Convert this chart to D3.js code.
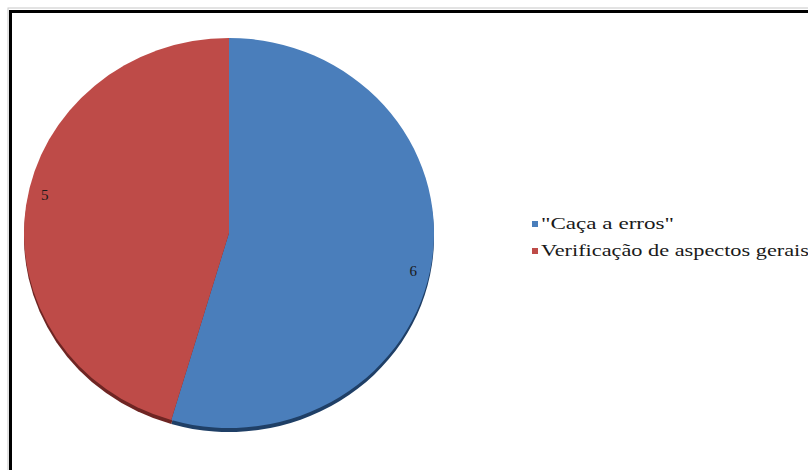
<!DOCTYPE html>
<html>
<head>
<meta charset="utf-8">
<script src="https://cdn.jsdelivr.net/npm/d3@7"></script>
<style>
  html, body { margin: 0; padding: 0; background: #fff; }
  svg { display: block; }
</style>
</head>
<body>
<svg id="chart" width="808" height="470"></svg>
<script>
// Categories and their counts
const categories = ["\"Caça a erros\"", "Verificação de aspectos gerais"];
const values = [6, 5];
const colors = ["#4a7ebb", "#be4b48"];
const sideColors = ["#1f3f66", "#6e2523"];
const serif = "'Liberation Serif', 'DejaVu Serif', serif";

const svg = d3.select("#chart");

// Frame around the chart area
svg.append("rect")
  .attr("x", 8).attr("y", 8).attr("width", 900).attr("height", 600)
  .attr("fill", "none").attr("stroke", "#c8c8c8").attr("stroke-width", 1);
svg.append("rect")
  .attr("x", 10.5).attr("y", 11.5).attr("width", 900).attr("height", 600)
  .attr("fill", "none").attr("stroke", "#000").attr("stroke-width", 3);

// Slightly tilted pie: an ellipse with a thin extruded edge
const cx = 229, cy = 233, rx = 205, ry = 195, depth = 4;
const pie = d3.pie().sort(null).value(d => d);
const arcs = pie(values);
const arc = d3.arc().innerRadius(0).outerRadius(ry);

// side / depth layer
const sideLayer = svg.append("g")
  .attr("transform", `translate(${cx},${cy + depth}) scale(${rx / ry},1)`);
sideLayer.selectAll("path").data(arcs).join("path")
  .attr("d", arc)
  .attr("fill", (d, i) => sideColors[i]);

// top surface
const faceLayer = svg.append("g")
  .attr("transform", `translate(${cx},${cy}) scale(${rx / ry},1)`);
faceLayer.selectAll("path").data(arcs).join("path")
  .attr("d", arc)
  .attr("fill", (d, i) => colors[i]);

// value labels near the outer edge of each slice
const labelR = 0.92, skew = 4 * Math.PI / 180;
svg.append("g").selectAll("text").data(arcs).join("text")
  .style("font-family", serif)
  .style("font-size", "15px")
  .attr("x", d => cx + rx * labelR * Math.sin((d.startAngle + d.endAngle) / 2 + skew))
  .attr("y", d => cy - ry * labelR * Math.cos((d.startAngle + d.endAngle) / 2 + skew))
  .attr("text-anchor", "middle")
  .attr("dominant-baseline", "central")
  .attr("fill", "#1a1a1a")
  .text(d => d.data);

// legend
const legend = svg.append("g").attr("transform", "translate(532,221)");
const rowH = 27;
const widths = [133, 268];
categories.forEach((c, i) => {
  const g = legend.append("g").attr("transform", `translate(0,${i * rowH})`);
  g.append("rect").attr("x", 0).attr("y", 0).attr("width", 6).attr("height", 6)
    .attr("fill", colors[i]);
  g.append("text")
    .style("font-family", serif)
    .style("font-size", "17px")
    .attr("x", 9).attr("y", 8)
    .attr("fill", "#1a1a1a")
    .attr("textLength", widths[i])
    .attr("lengthAdjust", "spacingAndGlyphs")
    .text(c);
});
</script>
</body>
</html>
